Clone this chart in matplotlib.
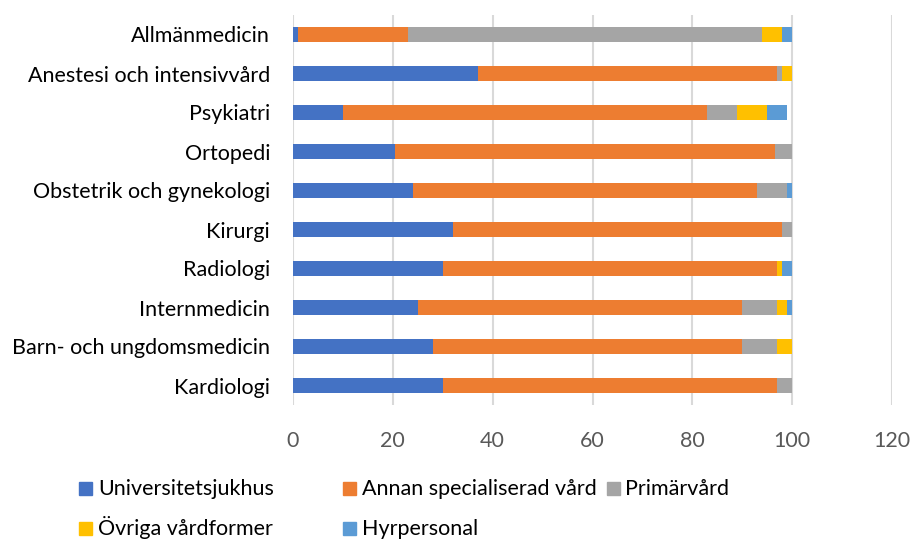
import matplotlib
matplotlib.use("Agg")
import matplotlib.pyplot as plt
from matplotlib.patches import Rectangle
import numpy as np

categories = ["Allmänmedicin", "Anestesi och intensivvård", "Psykiatri", "Ortopedi",
              "Obstetrik och gynekologi", "Kirurgi", "Radiologi", "Internmedicin",
              "Barn- och ungdomsmedicin", "Kardiologi"]
series_names = ["Universitetsjukhus", "Annan specialiserad vård", "Primärvård",
                "Övriga vårdformer", "Hyrpersonal"]
universitetsjukhus = [1, 37, 10, 20.5, 24, 32, 30, 25, 28, 30]
annan_specialiserad = [22, 60, 73, 76, 69, 66, 67, 65, 62, 67]
primarvard = [71, 1, 6, 3.5, 6, 2, 0, 7, 7, 3]
ovriga = [4, 2, 6, 0, 0, 0, 1, 2, 3, 0]
hyrpersonal = [2, 0, 4, 0, 1, 0, 2, 1, 0, 0]
xticks = [0, 20, 40, 60, 80, 100, 120]

colors = ["#4472C4", "#ED7D31", "#A5A5A5", "#FFC000", "#5B9BD5"]
data = [universitetsjukhus, annan_specialiserad, primarvard, ovriga, hyrpersonal]

plt.rcParams['font.family'] = ['Lato', 'DejaVu Sans']
FS = 15.5

fig = plt.figure(figsize=(9.1, 5.41), dpi=100)
ax = fig.add_axes([293/910, 1 - 405/541, (892-293)/910, (405-15)/541])

y = np.arange(len(categories))
left = np.zeros(len(categories))
for vals, col, name in zip(data, colors, series_names):
    vals = np.array(vals, dtype=float)
    ax.barh(y, vals, left=left, height=0.41, color=col, label=name, zorder=3)
    left += vals

ax.set_ylim(len(categories) - 0.5, -0.5)
ax.set_xlim(0, 120)
ax.set_xticks(xticks)
ax.set_xticklabels([str(t) for t in xticks], fontsize=FS, color="#595959")
ax.set_yticks(y)
ax.set_yticklabels(categories, fontsize=FS, color="#000000")
ax.tick_params(axis='y', length=0, pad=16.5)
ax.tick_params(axis='x', length=0, pad=19)
ax.grid(axis='x', color="#D9D9D9", linewidth=1.5, zorder=0)
for s in ax.spines.values():
    s.set_visible(False)

# legend
pos = [(79, 482, 98), (343, 482, 362), (607, 482, 625), (79, 522, 98), (343, 522, 362)]
for (px, py, tx), col, name in zip(pos, colors, series_names):
    fig.patches.append(Rectangle((px/910, 1 - (py+13)/541), 13/910, 13/541,
                                 transform=fig.transFigure, color=col, figure=fig))
    fig.text(tx/910, 1 - (py+13)/541, name, fontsize=FS, va='baseline', ha='left')

fig.savefig("out.png", dpi=100)
